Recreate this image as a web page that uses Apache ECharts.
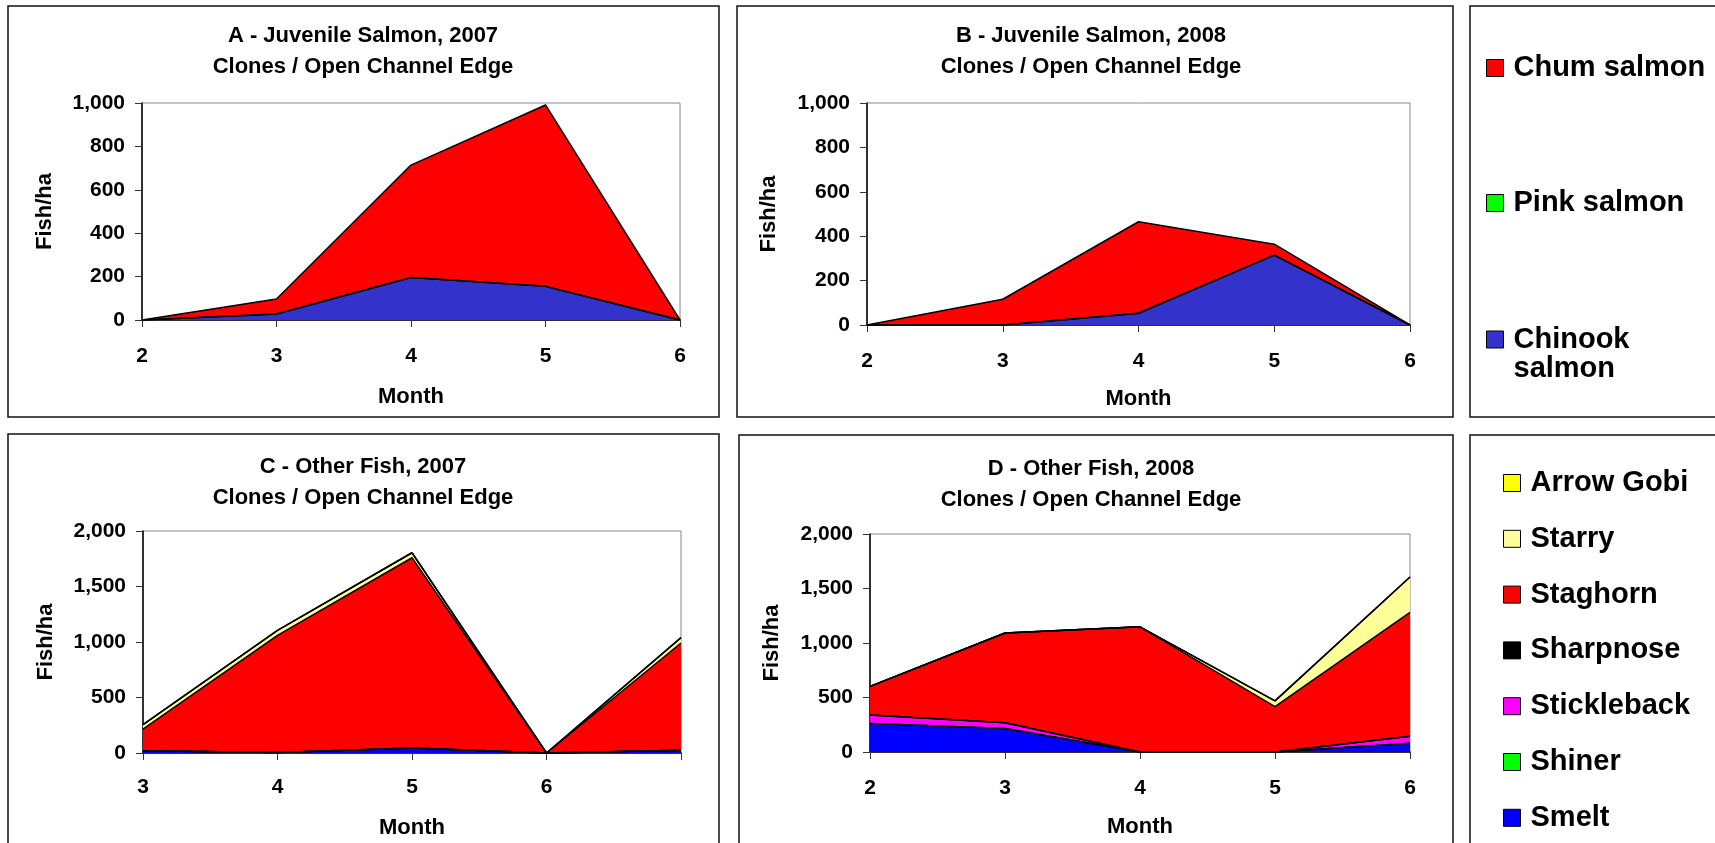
<!DOCTYPE html>
<html><head><meta charset="utf-8">
<script src="https://cdn.jsdelivr.net/npm/echarts@6/dist/echarts.min.js"></script>
<style>html,body{margin:0;padding:0;background:#fff}#c{width:1715px;height:843px}</style>
</head><body><div id="c"></div>
<script>
// ---- data ----
const monthsA = ['2','3','4','5','6'];
const monthsB = ['2','3','4','5','6'];
const monthsC = ['3','4','5','6',''];
const monthsD = ['2','3','4','5','6'];

const chinookA = [0, 28, 196, 155, 0];
const pinkA    = [0, 0, 0, 0, 0];
const chumA    = [0, 69, 518, 836, 0];

const chinookB = [0, 0, 53, 315, 0];
const pinkB    = [0, 0, 0, 0, 0];
const chumB    = [0, 116, 412, 49, 0];

const smeltC       = [20, 5, 45, 0, 25];
const shinerC      = [0, 0, 0, 0, 0];
const sticklebackC = [0, 0, 0, 0, 0];
const sharpnoseC   = [0, 0, 0, 0, 0];
const staghornC    = [195, 1055, 1714, 0, 966];
const starryC      = [40, 45, 45, 0, 48];
const arrowGobiC   = [0, 0, 0, 0, 0];

const smeltD       = [262, 216, 0, 0, 80];
const shinerD      = [0, 0, 0, 0, 0];
const sticklebackD = [78, 52, 0, 0, 65];
const sharpnoseD   = [0, 0, 0, 0, 0];
const staghornD    = [262, 824, 1148, 417, 1135];
const starryD      = [0, 0, 0, 52, 325];
const arrowGobiD   = [0, 0, 0, 0, 0];

const titleA = 'A - Juvenile Salmon, 2007\nClones / Open Channel Edge';
const titleB = 'B - Juvenile Salmon, 2008\nClones / Open Channel Edge';
const titleC = 'C - Other Fish, 2007\nClones / Open Channel Edge';
const titleD = 'D - Other Fish, 2008\nClones / Open Channel Edge';

// ---- styling ----
const FF = "'Liberation Sans', Arial, Helvetica, sans-serif";
const COL = {
  'Chum salmon':'#FF0000','Pink salmon':'#00FF00','Chinook salmon':'#3333CC',
  'Arrow Gobi':'#FFFF00','Starry':'#FFFF99','Staghorn':'#FF0000','Sharpnose':'#000000',
  'Stickleback':'#FF00FF','Shiner':'#00FF00','Smelt':'#0000FF'
};
const fmt = v => v.toLocaleString('en-US');

function area(name, data, idx, stack) {
  return {
    name, type: 'line', xAxisIndex: idx, yAxisIndex: idx, stack, data,
    symbol: 'none', showSymbol: false,
    itemStyle: { color: COL[name] },
    lineStyle: { color: '#000', width: 1.5 },
    areaStyle: { color: COL[name], opacity: 1 },
    emphasis: { disabled: true }
  };
}
function xAx(idx, data, margin, gap) {
  return {
    gridIndex: idx, type: 'category', data, boundaryGap: false,
    axisLine: { lineStyle: { color: '#000', width: 1.5 } },
    axisTick: { show: true, length: 7, lineStyle: { color: '#333' } },
    axisLabel: { margin, color: '#000', fontSize: 21, fontWeight: 'bold', fontFamily: FF },
    splitLine: { show: false },
    name: 'Month', nameLocation: 'middle', nameGap: gap,
    nameTextStyle: { color: '#000', fontSize: 22, fontWeight: 'bold', fontFamily: FF }
  };
}
function yAx(idx, max, interval, gap) {
  return {
    gridIndex: idx, type: 'value', min: 0, max, interval,
    axisLine: { show: true, lineStyle: { color: '#000', width: 1.5 } },
    axisTick: { show: true, length: 7, lineStyle: { color: '#333' } },
    axisLabel: { margin: 17, color: '#000', fontSize: 21, fontWeight: 'bold', fontFamily: FF, formatter: fmt },
    splitLine: { show: false },
    name: 'Fish/ha', nameLocation: 'middle', nameGap: gap, nameRotate: 90,
    nameTextStyle: { color: '#000', fontSize: 22, fontWeight: 'bold', fontFamily: FF }
  };
}
function ttl(text, cx, top) {
  return { text, left: cx, top, textAlign: 'center', padding: 0,
    textStyle: { color: '#000', fontSize: 22, fontWeight: 'bold', fontFamily: FF, lineHeight: 31 } };
}
const legText = { color: '#000', fontSize: 29, fontWeight: 'bold', fontFamily: FF, lineHeight: 30, padding: [0,0,0,5] };
function legItem(name, extra) { return Object.assign({ name, itemStyle: { color: COL[name] } }, extra || {}); }
function box(x, y, w, h) {
  return { type: 'rect', z: 0, silent: true, shape: { x, y, width: w, height: h },
    style: { fill: 'none', stroke: '#111', lineWidth: 1.5 } };
}

const chart = echarts.init(document.getElementById('c'));
chart.setOption({
  animation: false,
  backgroundColor: '#fff',
  graphic: [
    box(8, 6, 711, 411), box(737, 6, 716, 411), box(1470, 6, 260, 411),
    box(8, 434, 711, 420), box(739, 435, 714, 420), box(1470, 435, 260, 420)
  ],
  title: [ ttl(titleA, 363, 20), ttl(titleB, 1091, 20), ttl(titleC, 363, 451), ttl(titleD, 1091, 453) ],
  grid: [
    { left: 142, top: 103, width: 538, height: 217, show: true, borderColor: '#888', borderWidth: 1 },
    { left: 867, top: 103, width: 543, height: 222, show: true, borderColor: '#888', borderWidth: 1 },
    { left: 143, top: 531, width: 538, height: 222, show: true, borderColor: '#888', borderWidth: 1 },
    { left: 870, top: 534, width: 540, height: 218, show: true, borderColor: '#888', borderWidth: 1 }
  ],
  xAxis: [ xAx(0, monthsA, 26, 66), xAx(1, monthsB, 26, 63), xAx(2, monthsC, 24, 64), xAx(3, monthsD, 26, 64) ],
  yAxis: [ yAx(0, 1000, 200, 86), yAx(1, 1000, 200, 87), yAx(2, 2000, 500, 86), yAx(3, 2000, 500, 87) ],
  legend: [
    { orient: 'vertical', left: 1486, top: 53, itemGap: 105, itemWidth: 17, itemHeight: 17, icon: 'rect', padding: 0,
      itemStyle: { borderColor: '#000', borderWidth: 1 }, textStyle: legText,
      data: [ legItem('Chum salmon'), legItem('Pink salmon') ] },
    { orient: 'vertical', left: 1486, top: 296, itemWidth: 17, itemHeight: 17, icon: 'rect', padding: 0,
      itemStyle: { borderColor: '#000', borderWidth: 1 },
      textStyle: Object.assign({}, legText, { lineHeight: 29 }),
      formatter: n => '\n' + n.replace(' ', '\n'),
      data: [ legItem('Chinook salmon') ] },
    { orient: 'vertical', left: 1503, top: 468, itemGap: 25.8, itemWidth: 17, itemHeight: 17, icon: 'rect', padding: 0,
      itemStyle: { borderColor: '#000', borderWidth: 1 }, textStyle: legText,
      data: ['Arrow Gobi','Starry','Staghorn','Sharpnose','Stickleback','Shiner','Smelt'].map(n => legItem(n)) }
  ],
  series: [
    area('Chinook salmon', chinookA, 0, 'A'), area('Pink salmon', pinkA, 0, 'A'), area('Chum salmon', chumA, 0, 'A'),
    area('Chinook salmon', chinookB, 1, 'B'), area('Pink salmon', pinkB, 1, 'B'), area('Chum salmon', chumB, 1, 'B'),
    area('Smelt', smeltC, 2, 'C'), area('Shiner', shinerC, 2, 'C'), area('Stickleback', sticklebackC, 2, 'C'),
    area('Sharpnose', sharpnoseC, 2, 'C'), area('Staghorn', staghornC, 2, 'C'), area('Starry', starryC, 2, 'C'),
    area('Arrow Gobi', arrowGobiC, 2, 'C'),
    area('Smelt', smeltD, 3, 'D'), area('Shiner', shinerD, 3, 'D'), area('Stickleback', sticklebackD, 3, 'D'),
    area('Sharpnose', sharpnoseD, 3, 'D'), area('Staghorn', staghornD, 3, 'D'), area('Starry', starryD, 3, 'D'),
    area('Arrow Gobi', arrowGobiD, 3, 'D')
  ]
});
</script>
</body></html>
